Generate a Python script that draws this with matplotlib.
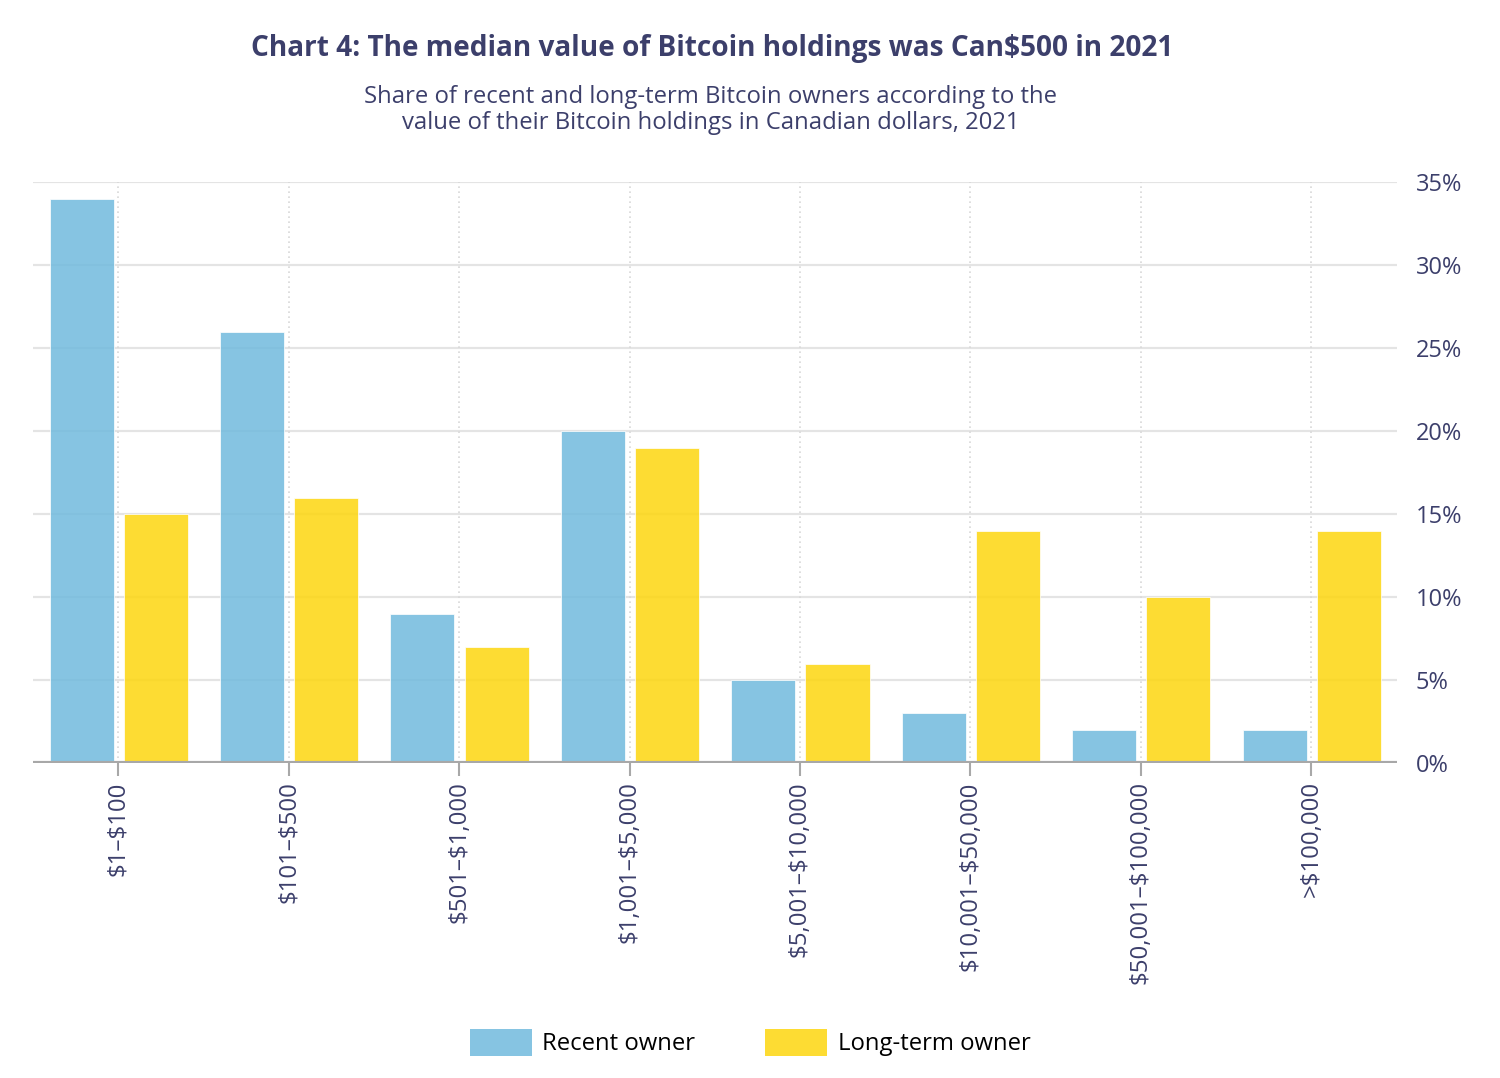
import numpy as np
import matplotlib
matplotlib.use("Agg")
import matplotlib.pyplot as plt
from matplotlib.patches import Patch

plt.rcParams['font.family'] = ['Open Sans', 'DejaVu Sans']
plt.rcParams['text.parse_math'] = False

# Data
categories = ["$1–$100", "$101–$500", "$501–$1,000", "$1,001–$5,000",
              "$5,001–$10,000", "$10,001–$50,000", "$50,001–$100,000", ">$100,000"]
recent = [34, 26, 9, 20, 5, 3, 2, 2]
long_term = [15, 16, 7, 19, 6, 14, 10, 14]
yticks = [0, 5, 10, 15, 20, 25, 30, 35]

navy = "#3c3f6b"
blue = "#71badd"
yellow = "#fdd60f"

fig = plt.figure(figsize=(15, 10.78), dpi=100)
ax = fig.add_axes([0.022, 0.292, 0.909, 0.539])

x = np.arange(len(categories))
w = 0.376
ax.bar(x - 0.215, recent, width=w, color=blue, alpha=0.85, zorder=2,
       edgecolor="white", linewidth=0.6)
ax.bar(x + 0.22, long_term, width=w, color=yellow, alpha=0.85, zorder=2,
       edgecolor="white", linewidth=0.6)

ax.set_xlim(-0.5, len(categories) - 0.5)
ax.set_ylim(0, 35)

# grid
for yv in yticks[1:]:
    ax.axhline(yv, color="#e4e4e4", lw=1.6, zorder=1)
for xv in x:
    ax.axvline(xv, color="#d8d8d8", lw=1.2, ls=(0, (1, 2)), zorder=1)
ax.axhline(0, color="#a8a8a8", lw=3, zorder=3)

for s in ax.spines.values():
    s.set_visible(False)

ax.yaxis.tick_right()
ax.set_yticks(yticks)
ax.set_yticklabels([f"{v}%" for v in yticks], fontsize=17, color=navy)
ax.tick_params(axis="y", length=0, pad=14)

ax.set_xticks(x)
ax.set_xticklabels(categories, rotation=90, fontsize=17.3, color=navy)
ax.tick_params(axis="x", length=9, width=1.5, color="#a8a8a8", pad=4)

fig.text(0.475, 0.955, "Chart 4: The median value of Bitcoin holdings was Can$500 in 2021",
         ha="center", va="center", fontsize=20.2, fontweight="bold", color=navy)
fig.text(0.474, 0.898, "Share of recent and long-term Bitcoin owners according to the\nvalue of their Bitcoin holdings in Canadian dollars, 2021",
         ha="center", va="center", fontsize=17.2, color=navy, linespacing=1.12)

handles = [Patch(facecolor=blue, alpha=0.85, label="Recent owner"),
           Patch(facecolor=yellow, alpha=0.85, label="Long-term owner")]
fig.legend(handles=handles, loc="center", bbox_to_anchor=(0.5, 0.033), ncol=2,
           frameon=False, fontsize=17.2, handlelength=2.6, handleheight=1.4,
           handletextpad=0.45, columnspacing=2.9)

fig.savefig("out.png", dpi=100, facecolor="white")
